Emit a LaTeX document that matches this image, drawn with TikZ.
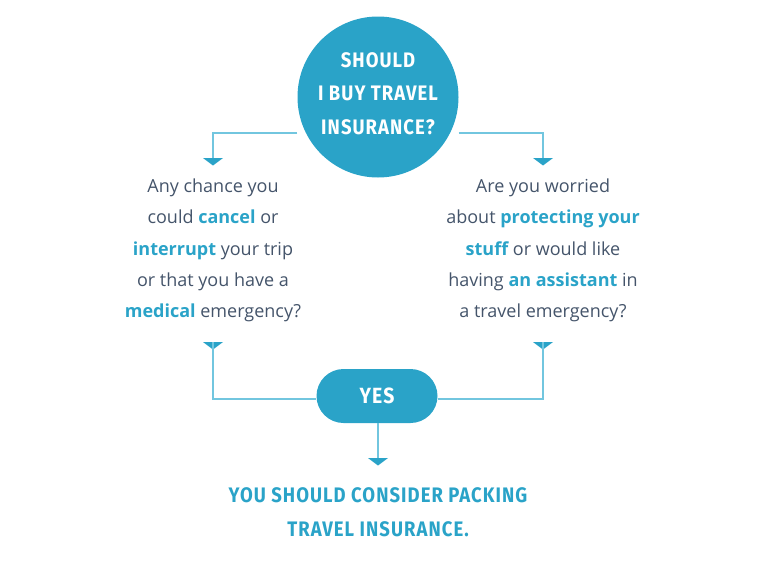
\documentclass[tikz,border=0pt]{standalone}
\usepackage{fontspec}
\setmainfont{Open Sans}
\newfontfamily\headfont{Fira Sans}[FakeStretch=0.88, LetterSpace=5]
\usetikzlibrary{calc}
\definecolor{tblue}{HTML}{2AA3C8}
\definecolor{lblue}{HTML}{72C6DF}
\definecolor{tgray}{HTML}{44546A}
\tikzset{
  conn/.style={draw=lblue, line width=1.1pt},
  body/.style={align=center, text=tgray, font=\fontsize{18}{31.3}\selectfont, inner sep=0pt},
  head/.style={text=white, align=center, font=\headfont\bfseries\fontsize{21}{33.5}\selectfont},
  pics/tri/.style={code={\fill[tblue] (-10,0) -- (10,0) -- (0,7.5) -- cycle;}}
}
\newcommand{\hlw}[1]{\textcolor{tblue}{\bfseries #1}}
\begin{document}
\begin{tikzpicture}[x=1pt,y=-1pt]
\useasboundingbox (0,0) rectangle (768,568);
\node[circle, fill=tblue, minimum size=161pt, inner sep=0pt] (q) at (378,97) {};
\node[head] (qt) at (378,93.5) {SHOULD\\I BUY TRAVEL\\INSURANCE?};
\coordinate (lt) at (213,158);
\coordinate (rt) at (543,158);
\draw[conn] (q.west |- 0,133) -- (213,133) -- (lt);
\draw[conn] (q.east |- 0,133) -- (543,133) -- (rt);
\pic at (lt) {tri};
\pic at (rt) {tri};
\node[body] (l) at (213,250.5) {Any chance you\\could \hlw{cancel} or\\\hlw{interrupt} your trip\\or that you have a\\\hlw{medical} emergency?};
\node[body] (r) at (543,250.5) {Are you worried\\about \hlw{protecting your}\\\hlw{stuff} or would like\\having \hlw{an assistant} in\\a travel emergency?};
\node[rounded corners=27pt, fill=tblue, minimum width=121pt, minimum height=54pt, inner sep=0pt, text=white, font=\headfont\bfseries\fontsize{22}{24}\selectfont] (yes) at (377,396) {YES};
\coordinate (lb) at (213,342);
\coordinate (rb) at (543,342);
\coordinate (bt) at (378,458);
\pic at (lb) {tri};
\pic at (rb) {tri};
\draw[conn] (yes.west |- 0,399) -- (213,399) -- (lb);
\draw[conn] (yes.east |- 0,399) -- (543,399) -- (rb);
\draw[conn] (yes.south -| bt) -- (bt);
\pic at (bt) {tri};
\node[align=center, text=tblue, font=\headfont\bfseries\fontsize{21}{33.5}\selectfont] (res) at (378,512) {YOU SHOULD CONSIDER PACKING\\TRAVEL INSURANCE.};
\end{tikzpicture}
\end{document}
